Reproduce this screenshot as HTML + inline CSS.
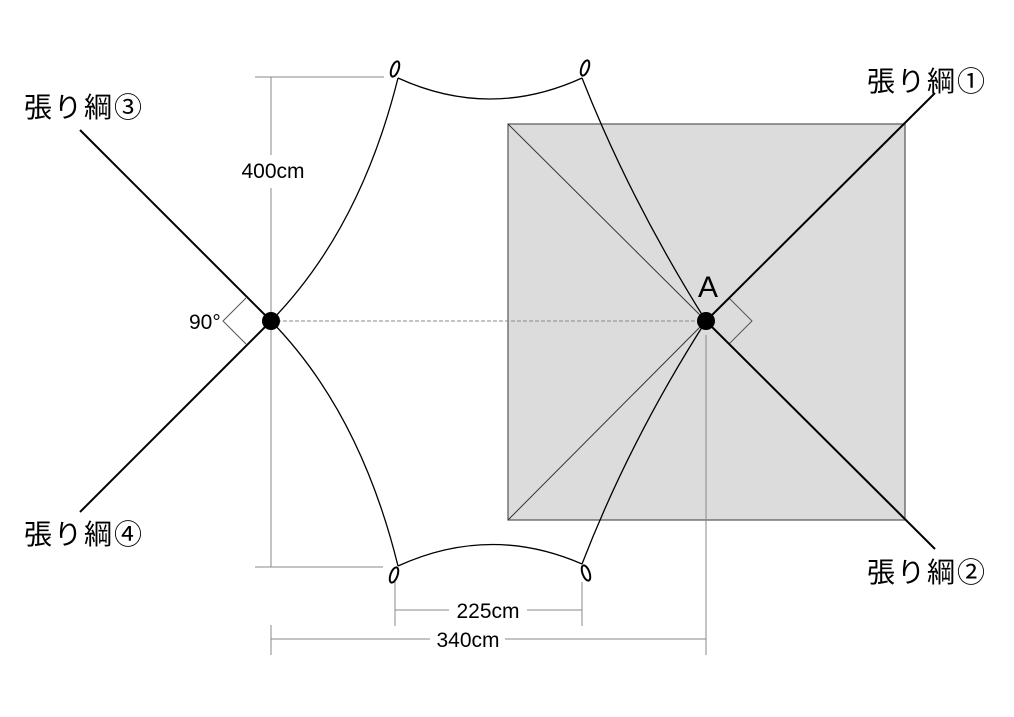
<!DOCTYPE html>
<html><head><meta charset="utf-8"><style>
html,body{margin:0;padding:0;background:#fff;}
svg{display:block;}
text{font-family:"Liberation Sans","Noto Sans CJK JP",sans-serif;}
</style></head><body>
<svg width="1014" height="717" viewBox="0 0 1014 717" xmlns="http://www.w3.org/2000/svg">
<rect width="1014" height="717" fill="#fff"/>
<rect x="508" y="124" width="397" height="396" fill="#dcdcdc" stroke="#555" stroke-width="1.2"/>
<line x1="508" y1="124" x2="706" y2="321" stroke="#333" stroke-width="1"/>
<line x1="508" y1="520" x2="706" y2="321" stroke="#333" stroke-width="1"/>
<g stroke="#888" stroke-width="1" fill="none">
<line x1="271" y1="77" x2="271" y2="155"/>
<line x1="271" y1="188" x2="271" y2="567"/>
<line x1="255" y1="77" x2="384" y2="77"/>
<line x1="255" y1="567" x2="383" y2="567"/>
<line x1="395" y1="582" x2="395" y2="626"/>
<line x1="582" y1="582" x2="582" y2="626"/>
<line x1="395" y1="610" x2="449" y2="610"/>
<line x1="527" y1="610" x2="582" y2="610"/>
<line x1="271" y1="625" x2="271" y2="655"/>
<line x1="271" y1="639" x2="430" y2="639"/>
<line x1="505" y1="639" x2="706" y2="639"/>
<line x1="706" y1="335" x2="706" y2="655"/>
<line x1="271" y1="321" x2="700" y2="321" stroke-dasharray="4,2"/>
</g>
<polyline points="246,298 223,321 246,344" fill="none" stroke="#555" stroke-width="1"/>
<polyline points="729,298 752,321 729,344" fill="none" stroke="#555" stroke-width="1"/>
<g stroke="#000" stroke-width="2">
<line x1="80" y1="130" x2="271" y2="321"/>
<line x1="80" y1="512" x2="271" y2="321"/>
<line x1="935" y1="93" x2="706" y2="321"/>
<line x1="935" y1="549" x2="706" y2="321"/>
</g>
<g stroke="#000" stroke-width="1.3" fill="none">
<path d="M271,321 Q360,230 398,78"/>
<path d="M398,78 Q490,120 582,78"/>
<path d="M582,78 Q630,200 706,321"/>
<path d="M271,321 Q360,412 398,566"/>
<path d="M398,566 Q490,524 582,564"/>
<path d="M582,564 Q630,440 706,321"/>
</g>
<g fill="none" stroke="#000" stroke-width="2">
<ellipse cx="395" cy="69" rx="3.5" ry="8" transform="rotate(20 395 69)"/>
<ellipse cx="585" cy="68" rx="3.5" ry="8" transform="rotate(20 585 68)"/>
<ellipse cx="394" cy="575" rx="3.5" ry="8" transform="rotate(20 394 575)"/>
<ellipse cx="586" cy="573" rx="3.5" ry="8" transform="rotate(-20 586 573)"/>
</g>
<circle cx="271" cy="321" r="9" fill="#000"/>
<circle cx="706" cy="321" r="9" fill="#000"/>
<g font-size="21" fill="#000">
<text x="273" y="178" text-anchor="middle">400cm</text>
<text x="488" y="618" text-anchor="middle">225cm</text>
<text x="468" y="647" text-anchor="middle">340cm</text>
<text x="189" y="329">90°</text>
</g>
<text x="708" y="297" font-size="30" text-anchor="middle">A</text>
<g font-size="28" fill="#000">
<text x="867" y="91" textLength="118">張り綱①</text>
<text x="867" y="582" textLength="118">張り綱②</text>
<text x="24" y="117" textLength="118">張り綱③</text>
<text x="24" y="544" textLength="118">張り綱④</text>
</g>
</svg>
</body></html>
